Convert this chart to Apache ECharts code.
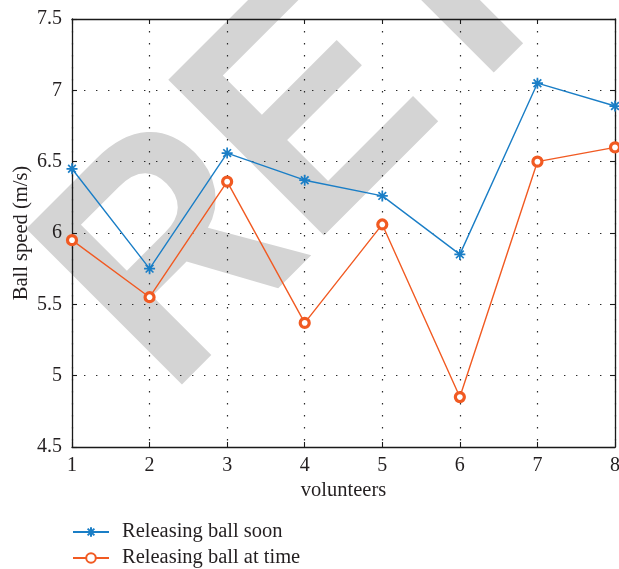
<!DOCTYPE html>
<html>
<head>
<meta charset="utf-8">
<title>Ball speed by volunteer</title>
<script src="https://cdn.jsdelivr.net/npm/echarts@6/dist/echarts.min.js"></script>
<style>
  html, body { margin: 0; padding: 0; background: #fff; }
  #chart { width: 619px; height: 569px; }
</style>
</head>
<body>
<div id="chart"></div>
<script>
// Volunteer index on the x axis
const volunteers = [1, 2, 3, 4, 5, 6, 7, 8];
// Ball speed (m/s) for each release strategy
const releasingSoon = [6.45, 5.75, 6.56, 6.37, 6.26, 5.85, 7.05, 6.89];
const releasingAtTime = [5.95, 5.55, 6.36, 5.37, 6.06, 4.85, 6.50, 6.60];
const seriesNames = ['Releasing ball soon', 'Releasing ball at time'];
const yTicks = [4.5, 5, 5.5, 6, 6.5, 7, 7.5];

const BLUE = '#1a7ec6';
const ORANGE = '#f15a22';
const INK = '#231f20';
const SERIF = '"Liberation Serif", "DejaVu Serif", serif';

// asterisk marker: plus and cross strokes
const ASTERISK = 'path://M5,0L5,10M0,5L10,5M1.5,1.5L8.5,8.5M8.5,1.5L1.5,8.5';

function pairs(xs, ys) { return xs.map((x, i) => [x, ys[i]]); }

// large grey stamp letters laid diagonally behind the plot
const stampSize = 320;
const stampSqueeze = 0.9;
const stampAngle = Math.PI / 4;
const ux = Math.cos(stampAngle), uy = -Math.sin(stampAngle);   // baseline direction
const dx = Math.sin(stampAngle), dy = Math.cos(stampAngle);    // "down" direction
const stampLetters = [
  { ch: 'R', corner: [200, 400], lsb: 0.073 },
  { ch: 'E', corner: [342, 251], lsb: 0.073 },
  { ch: 'I', corner: [510, 90], lsb: 0.064 }
];
const stampGraphics = stampLetters.map(l => {
  const lsb = l.lsb * stampSize * stampSqueeze;
  const bx = l.corner[0] - lsb * ux;
  const by = l.corner[1] - lsb * uy;
  const mid = 0.35 * stampSize;
  return {
    type: 'text',
    z: -10,
    x: bx - mid * dx,
    y: by - mid * dy,
    rotation: stampAngle,
    scaleX: stampSqueeze,
    silent: true,
    style: {
      text: l.ch,
      font: 'bold ' + stampSize + 'px "Liberation Sans", Arial, sans-serif',
      fill: '#d4d4d4',
      align: 'left',
      verticalAlign: 'middle'
    }
  };
});

const chart = echarts.init(document.getElementById('chart'), null, { renderer: 'canvas' });

const dotted = { color: '#2a2a2a', width: 1.2, type: [1.4, 10.6] };
const frameLine = { show: true, lineStyle: { color: '#1a1a1a', width: 1.3 } };
const innerTick = { show: true, inside: true, length: 5, lineStyle: { color: '#1a1a1a', width: 1.1 } };

chart.setOption({
  backgroundColor: '#ffffff',
  animation: false,
  graphic: stampGraphics,
  grid: { left: 72, right: 4, top: 19, bottom: 122, containLabel: false, outerBoundsMode: 'none' },
  legend: {
    orient: 'vertical',
    left: 72,
    top: 521,
    padding: 0,
    itemWidth: 36,
    itemHeight: 12,
    itemGap: 4,
    data: seriesNames,
    textStyle: { fontFamily: SERIF, fontSize: 20.5, lineHeight: 22, color: INK, padding: [0, 0, 0, 8] }
  },
  xAxis: [
    {
      type: 'value', min: 1, max: 8, interval: 1, position: 'bottom',
      name: 'volunteers', nameLocation: 'middle', nameGap: 33, nameMoveOverlap: false,
      nameTextStyle: { fontFamily: SERIF, fontSize: 20.5, color: INK },
      axisLine: frameLine, axisTick: innerTick,
      axisLabel: { fontFamily: SERIF, fontSize: 20, color: INK, margin: 9 },
      splitLine: { show: true, lineStyle: dotted }
    },
    {
      type: 'value', min: 1, max: 8, interval: 1, position: 'top',
      axisLine: frameLine, axisTick: innerTick,
      axisLabel: { show: false }, splitLine: { show: false }
    }
  ],
  yAxis: [
    {
      type: 'value', min: yTicks[0], max: yTicks[yTicks.length - 1], interval: 0.5, position: 'left',
      name: 'Ball speed (m/s)', nameLocation: 'middle', nameGap: 40, nameRotate: 90, nameMoveOverlap: false,
      nameTextStyle: { fontFamily: SERIF, fontSize: 20.5, color: INK },
      axisLine: frameLine, axisTick: innerTick,
      axisLabel: { fontFamily: SERIF, fontSize: 20, color: INK, margin: 10 },
      splitLine: { show: true, lineStyle: dotted }
    },
    {
      type: 'value', min: yTicks[0], max: yTicks[yTicks.length - 1], interval: 0.5, position: 'right',
      axisLine: frameLine, axisTick: innerTick,
      axisLabel: { show: false }, splitLine: { show: false }
    }
  ],
  series: [
    {
      name: seriesNames[0],
      type: 'line',
      data: pairs(volunteers, releasingSoon),
      symbol: ASTERISK,
      symbolSize: 11,
      showAllSymbol: true,
      lineStyle: { color: BLUE, width: 1.4 },
      itemStyle: { color: BLUE, borderColor: BLUE, borderWidth: 1.7 },
      z: 3
    },
    {
      name: seriesNames[1],
      type: 'line',
      data: pairs(volunteers, releasingAtTime),
      symbol: 'circle',
      symbolSize: 9,
      showAllSymbol: true,
      lineStyle: { color: ORANGE, width: 1.4 },
      itemStyle: { color: '#ffffff', borderColor: ORANGE, borderWidth: 3.2 },
      z: 2
    }
  ]
});
</script>
</body>
</html>
